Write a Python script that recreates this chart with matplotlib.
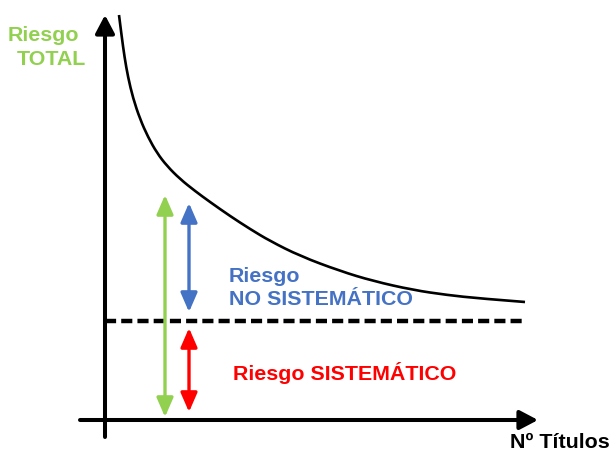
import numpy as np
import matplotlib.pyplot as plt
from matplotlib.path import Path
from matplotlib.patches import PathPatch

plt.rcParams['font.family'] = ['Liberation Sans', 'DejaVu Sans']

# --------------------------
# Data (schematic units, origin at the axes crossing)
# --------------------------
n_titulos = [14, 16.5, 19.5, 23, 28, 35, 43, 52, 62, 75, 90, 105,
             125, 145, 165, 195, 235, 268, 308, 342, 375, 420]
riesgo_total = [405, 385, 363, 343, 322, 301, 283, 267, 254, 241, 229, 218,
                204, 191, 179, 164, 149, 139, 130, 125, 121.5, 118]

riesgo_sistematico = 99      # level of dashed line
x_fin = 420                  # where the dashed line ends

# vertical arrows: (x, y_low, y_high)
flecha_total = (60, 3, 225)
flecha_no_sist = (84, 108, 217)
flecha_sist = (84, 8, 92)

GREEN = '#92D050'
BLUE = '#4472C4'
RED = '#FF0000'

# --------------------------
# Figure
# --------------------------
fig = plt.figure(figsize=(6.09, 4.51), dpi=100)
ax = fig.add_axes([0, 0, 1, 1])
ax.set_xlim(-105, 504)
ax.set_ylim(-31, 420)
ax.axis('off')

# axes with arrow heads
ax_style = '-|>,head_length=1.1,head_width=0.58'
ax.annotate('', xy=(0, 405), xytext=(0, -17),
            arrowprops=dict(arrowstyle=ax_style, color='black', lw=2.9,
                            mutation_scale=10, shrinkA=0, shrinkB=0))
ax.annotate('', xy=(433, 0), xytext=(-25, 0),
            arrowprops=dict(arrowstyle=ax_style, color='black', lw=2.9,
                            mutation_scale=10, shrinkA=0, shrinkB=0))

# total risk curve, smoothed with quadratic bezier segments through the read points
pts = np.column_stack([n_titulos, riesgo_total])
verts = [pts[0]]
codes = [Path.MOVETO]
for i in range(1, len(pts) - 1):
    end = pts[i + 1] if i == len(pts) - 2 else (pts[i] + pts[i + 1]) / 2
    verts += [pts[i], end]
    codes += [Path.CURVE3, Path.CURVE3]
curve = PathPatch(Path(verts, codes), facecolor='none', edgecolor='black',
                  lw=1.9, capstyle='butt')
ax.add_patch(curve)

# systematic risk level
ax.plot([0, x_fin], [riesgo_sistematico, riesgo_sistematico], color='black',
        lw=3.2, dashes=(2.5, 1.15))

# double arrows
def doble_flecha(spec, color):
    x, y0, y1 = spec
    ax.annotate('', xy=(x, y1), xytext=(x, y0),
                arrowprops=dict(arrowstyle='<|-|>,head_length=1.15,head_width=0.5',
                                color=color, lw=2.4, mutation_scale=10,
                                shrinkA=0, shrinkB=0))

doble_flecha(flecha_total, GREEN)
doble_flecha(flecha_no_sist, BLUE)
doble_flecha(flecha_sist, RED)

# labels
fs = 15.4
ax.text(-97, 379, 'Riesgo', color=GREEN, fontsize=fs, fontweight='bold', va='baseline')
ax.text(-88, 355, 'TOTAL', color=GREEN, fontsize=fs, fontweight='bold', va='baseline')
ax.text(124, 138, 'Riesgo', color=BLUE, fontsize=fs, fontweight='bold', va='baseline')
ax.text(124, 115, 'NO SISTEMÁTICO', color=BLUE, fontsize=fs, fontweight='bold', va='baseline')
ax.text(128, 40, 'Riesgo SISTEMÁTICO', color=RED, fontsize=fs, fontweight='bold', va='baseline')
ax.text(405, -28, 'Nº Títulos', color='black', fontsize=fs, fontweight='bold', va='baseline')

plt.savefig('out.png', dpi=100)
